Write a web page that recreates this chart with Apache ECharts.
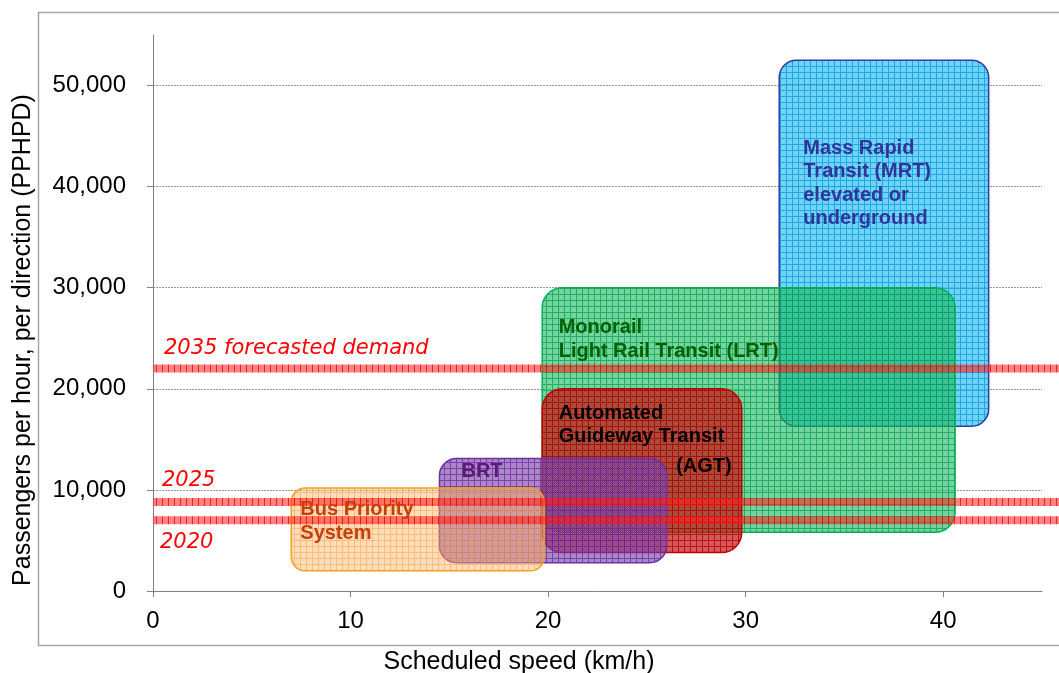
<!DOCTYPE html>
<html>
<head>
<meta charset="utf-8">
<script src="https://cdn.jsdelivr.net/npm/echarts@6/dist/echarts.min.js"></script>
<style>
html,body{margin:0;padding:0;background:#fff;}
#chart{width:1059px;height:673px;}
</style>
</head>
<body>
<div id="chart"></div>
<script>
// ---- data ----
const systems = [
  'Mass Rapid\nTransit (MRT)\nelevated or\nunderground',
  'Monorail\nLight Rail Transit (LRT)',
  'Automated\nGuideway Transit\n(AGT)',
  'BRT',
  'Bus Priority\nSystem'
];
const speedMin = [31.7, 19.7, 19.7, 14.5, 7.0];
const speedMax = [42.3, 40.6, 29.8, 26.0, 19.8];
const paxMin = [16300, 5800, 3800, 2800, 2000];
const paxMax = [52500, 30000, 20000, 13100, 10200];
const demandLabels = ['2035 forecasted demand', '2025', '2020'];
const demandValues = [22000, 8800, 7000];
const xTickValues = [0, 10, 20, 30, 40];
const yTickValues = [0, 10000, 20000, 30000, 40000, 50000];
const xAxisTitle = 'Scheduled speed (km/h)';
const yAxisTitle = 'Passengers per hour, per direction (PPHPD)';

// ---- styles ----
function makePattern(base, line, dither, vOnly) {
  const c = document.createElement('canvas');
  c.width = 6; c.height = 6;
  const ctx = c.getContext('2d');
  ctx.fillStyle = base; ctx.fillRect(0, 0, 6, 6);
  if (dither) {
    ctx.fillStyle = dither;
    for (let i = 1; i < 6; i++) for (let j = 1; j < 6; j++) if ((i + j) % 2 === 0) ctx.fillRect(i, j, 1, 1);
  }
  ctx.fillStyle = line;
  if (!vOnly) ctx.fillRect(1, 0, 5, 1);
  ctx.fillRect(0, 0, 1, 6);
  return { image: c, repeat: 'repeat' };
}
const boxStyles = [
  { fill: makePattern('rgba(0,176,240,0.6)', 'rgba(0,150,225,0.7)', 'rgba(255,255,255,0.12)'), stroke: '#2e3d9e', r: 17, color: '#333399', dx: 24, dy: 81, lines: [0, 23.5, 47, 70.5] },
  { fill: makePattern('rgba(0,176,80,0.58)', 'rgba(0,160,75,0.7)', 'rgba(255,255,255,0.12)'), stroke: '#00b050', r: 20, color: '#006100', dx: 16.5, dy: 33, lines: [0, 23.5] },
  { fill: makePattern('rgba(192,0,0,0.68)', 'rgba(180,0,0,0.78)', 'rgba(255,255,255,0.08)'), stroke: '#c00000', r: 20, color: '#000000', dx: 16.5, dy: 17.5, lines: [0, 23.5, 52.7], rightLast: 10 },
  { fill: makePattern('rgba(112,48,160,0.62)', 'rgba(105,42,155,0.72)', 'rgba(255,255,255,0.12)'), stroke: '#7030a0', r: 17, color: '#5a1a78', dx: 22, dy: 6, lines: [0] },
  { fill: makePattern('rgba(255,170,80,0.42)', 'rgba(245,155,70,0.5)', 'rgba(255,255,255,0.12)'), stroke: '#f5a01a', r: 14, color: '#c4410c', dx: 9, dy: 15, lines: [0, 24] }
];
const bandFill = makePattern('rgba(255,30,30,0.55)', 'rgba(235,0,0,0.75)', null, true);
const demandLabelStyle = [ { dx: 11, dy: -28 }, { dx: 9, dy: -28.5 }, { dx: 7, dy: 15.3 } ];
const boxFont = 'bold 20px "Liberation Sans", Arial, sans-serif';
const yearFont = 'italic 21px "DejaVu Sans", sans-serif';
const CAP = 3; // approx offset from text box top to cap top

const chart = echarts.init(document.getElementById('chart'), null, { renderer: 'canvas' });

const boxData = systems.map((n, i) => [speedMin[i], speedMax[i], paxMin[i], paxMax[i], i]);
const bandData = demandValues.map((v, i) => [v, i]);

function fmt(v) { return v.toLocaleString('en-US'); }

const option = {
  backgroundColor: '#fff',
  animation: false,
  grid: { left: 153, right: 17, top: 35, bottom: 82, containLabel: false },
  xAxis: {
    type: 'value', min: 0, max: 45, interval: 10,
    axisLine: { show: true, lineStyle: { color: '#808080', width: 1 } },
    axisTick: { show: true, length: 6, customValues: xTickValues, lineStyle: { color: '#808080' } },
    axisLabel: { margin: 18, fontSize: 24, color: '#000', fontFamily: '"Liberation Sans", Arial, sans-serif',
      customValues: xTickValues, formatter: v => String(v) },
    splitLine: { show: false }
  },
  yAxis: {
    type: 'value', min: 0, max: 55000, interval: 10000,
    axisLine: { show: true, lineStyle: { color: '#808080', width: 1 } },
    axisTick: { show: true, length: 6, customValues: yTickValues, lineStyle: { color: '#808080' } },
    axisLabel: { margin: 27, fontSize: 24, color: '#000', fontFamily: '"Liberation Sans", Arial, sans-serif',
      customValues: yTickValues, formatter: v => fmt(v) },
    splitLine: { show: true, showMinLine: false, lineStyle: { color: '#999', type: [2, 1], width: 1 } }
  },
  graphic: [
    { type: 'rect', silent: true, z: -1, shape: { x: 38.5, y: 12.5, width: 1100, height: 633 },
      style: { fill: 'none', stroke: '#a6a6a6', lineWidth: 1.5 } },
    { type: 'text', x: 519, y: 662, style: { text: xAxisTitle, font: '25px "Liberation Sans", Arial, sans-serif', fill: '#000', align: 'center', verticalAlign: 'middle' } },
    { type: 'text', x: 23, y: 340, rotation: Math.PI / 2, style: { text: yAxisTitle, font: '25px "Liberation Sans", Arial, sans-serif', fill: '#000', align: 'center', verticalAlign: 'middle' } }
  ],
  series: [
    {
      type: 'custom', name: 'systems', z: 2,
      data: boxData,
      renderItem: function (params, api) {
        const i = api.value(4);
        const p0 = api.coord([api.value(0), api.value(3)]);
        const p1 = api.coord([api.value(1), api.value(2)]);
        const s = boxStyles[i];
        return {
          type: 'rect',
          shape: { x: p0[0], y: p0[1], width: p1[0] - p0[0], height: p1[1] - p0[1], r: s.r },
          style: { fill: s.fill, stroke: s.stroke, lineWidth: 1.5 }
        };
      }
    },
    {
      type: 'custom', name: 'demand', z: 3, clip: false,
      data: bandData,
      renderItem: function (params, api) {
        const p = api.coord([0, api.value(0)]);
        const w = api.getWidth();
        return {
          type: 'rect',
          shape: { x: p[0], y: p[1] - 4, width: w - p[0] + 5, height: 8 },
          style: { fill: bandFill }
        };
      }
    },
    {
      type: 'custom', name: 'systemLabels', z: 4,
      data: boxData,
      renderItem: function (params, api) {
        const i = api.value(4);
        const p0 = api.coord([api.value(0), api.value(3)]);
        const p1 = api.coord([api.value(1), api.value(2)]);
        const s = boxStyles[i];
        const lines = systems[i].split('\n');
        const children = lines.map((t, k) => {
          const right = s.rightLast && k === lines.length - 1;
          return {
            type: 'text',
            style: {
              text: t, font: boxFont, fill: s.color,
              x: right ? p1[0] - s.rightLast : p0[0] + s.dx,
              y: p0[1] + s.dy + s.lines[k] - CAP,
              align: right ? 'right' : 'left', verticalAlign: 'top'
            }
          };
        });
        return { type: 'group', children: children };
      }
    },
    {
      type: 'custom', name: 'demandLabels', z: 5, clip: false,
      data: bandData,
      renderItem: function (params, api) {
        const i = api.value(1);
        const p = api.coord([0, api.value(0)]);
        const s = demandLabelStyle[i];
        return {
          type: 'text',
          style: { text: demandLabels[i], font: yearFont, fill: '#ff0000', x: p[0] + s.dx, y: p[1] + s.dy - CAP, align: 'left', verticalAlign: 'top' }
        };
      }
    }
  ]
};
chart.setOption(option);
</script>
</body>
</html>
